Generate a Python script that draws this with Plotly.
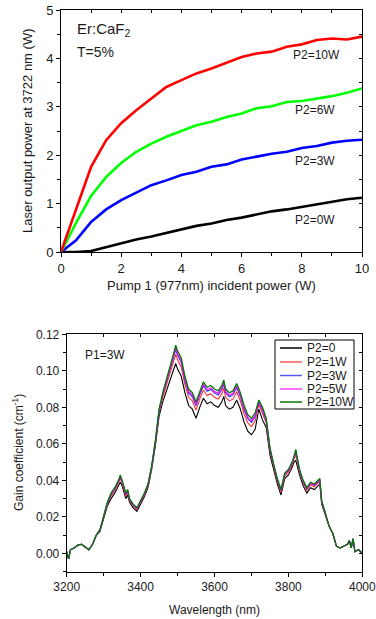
import plotly.graph_objects as go

# ---- upper panel: laser output vs pump 1 power ----
pump1 = [0, 0.5, 1, 1.5, 2, 2.5, 3, 3.5, 4, 4.5, 5, 5.5, 6, 6.5, 7, 7.5, 8, 8.5, 9, 9.5, 10]
out_p2_0w = [0, 0.0, 0.02, 0.10, 0.19, 0.26, 0.32, 0.39, 0.46, 0.54, 0.59, 0.66, 0.71, 0.77,
             0.84, 0.88, 0.93, 0.99, 1.04, 1.09, 1.12]
out_p2_3w = [0, 0.24, 0.62, 0.88, 1.07, 1.22, 1.38, 1.48, 1.59, 1.66, 1.76, 1.81, 1.91, 1.97,
             2.03, 2.07, 2.15, 2.19, 2.26, 2.30, 2.32]
out_p2_6w = [0, 0.60, 1.16, 1.55, 1.84, 2.07, 2.24, 2.38, 2.50, 2.62, 2.69, 2.79, 2.86, 2.97,
             3.01, 3.10, 3.12, 3.17, 3.22, 3.29, 3.38]
out_p2_10w = [0, 0.90, 1.76, 2.31, 2.66, 2.93, 3.17, 3.41, 3.55, 3.69, 3.79, 3.91, 4.03, 4.10,
              4.14, 4.24, 4.29, 4.38, 4.41, 4.39, 4.45]

# ---- lower panel: gain spectra at P1 = 3 W ----
wavelength = [3200, 3205, 3210, 3220, 3230, 3240, 3250, 3260, 3270, 3280, 3290, 3300, 3310,
              3320, 3330, 3340, 3345, 3350, 3360, 3365, 3370, 3380, 3390, 3400, 3410, 3420,
              3430, 3440, 3450, 3460, 3470, 3480, 3490, 3495, 3500, 3510, 3520, 3530, 3540,
              3550, 3560, 3570, 3580, 3590, 3600, 3610, 3620, 3625, 3630, 3640, 3650, 3660,
              3670, 3680, 3690, 3700, 3710, 3720, 3725, 3730, 3740, 3750, 3760, 3770, 3780,
              3790, 3800, 3810, 3815, 3820, 3830, 3840, 3850, 3860, 3870, 3880, 3885, 3890,
              3900, 3910, 3920, 3930, 3940, 3950, 3960, 3965, 3970, 3975, 3980, 3990, 4000]

gain_p2_10w = [0.001, -0.003, 0.002, 0.003, 0.0045, 0.005, 0.0035, 0.002, 0.005, 0.010, 0.013,
               0.020, 0.028, 0.033, 0.036, 0.040, 0.043, 0.040, 0.033, 0.035, 0.030, 0.027,
               0.025, 0.029, 0.033, 0.038, 0.048, 0.062, 0.079, 0.088, 0.095, 0.103, 0.110,
               0.114, 0.111, 0.107, 0.097, 0.090, 0.088, 0.083, 0.089, 0.094, 0.091, 0.092,
               0.090, 0.089, 0.092, 0.095, 0.090, 0.088, 0.089, 0.093, 0.088, 0.081, 0.076,
               0.074, 0.077, 0.084, 0.082, 0.080, 0.074, 0.058, 0.049, 0.041, 0.035, 0.044,
               0.046, 0.050, 0.053, 0.057, 0.046, 0.040, 0.036, 0.039, 0.038, 0.040, 0.041,
               0.029, 0.022, 0.015, 0.011, 0.004, 0.003, 0.004, 0.005, 0.007, 0.003, 0.008,
               0.001, 0.002, 0.000]

gain_p2_5w = [0.001, -0.003, 0.002, 0.003, 0.0045, 0.005, 0.0035, 0.002, 0.005, 0.010, 0.0129,
              0.0199, 0.0277, 0.0326, 0.0356, 0.0396, 0.0424, 0.0396, 0.0326, 0.0346, 0.0297,
              0.0267, 0.0247, 0.0287, 0.0327, 0.0377, 0.0477, 0.0616, 0.0784, 0.0873, 0.0941,
              0.1018, 0.1087, 0.1125, 0.1095, 0.1055, 0.0957, 0.0887, 0.0867, 0.0817, 0.0877,
              0.0927, 0.0897, 0.0907, 0.0887, 0.0877, 0.0907, 0.0937, 0.0887, 0.0867, 0.0877,
              0.0917, 0.0867, 0.0797, 0.0747, 0.0727, 0.0757, 0.0833, 0.0811, 0.0790, 0.0733,
              0.0574, 0.0486, 0.0406, 0.0346, 0.0436, 0.0456, 0.0496, 0.0526, 0.0561, 0.0456,
              0.0396, 0.0356, 0.0386, 0.0376, 0.0396, 0.0406, 0.0287, 0.0219, 0.015, 0.011,
              0.004, 0.003, 0.004, 0.005, 0.007, 0.003, 0.008, 0.001, 0.002, 0.000]

gain_p2_3w = [0.001, -0.003, 0.002, 0.003, 0.0045, 0.005, 0.0035, 0.002, 0.005, 0.010, 0.0128,
              0.0198, 0.0275, 0.0323, 0.0353, 0.0393, 0.0420, 0.0393, 0.0323, 0.0343, 0.0295,
              0.0265, 0.0245, 0.0285, 0.0325, 0.0375, 0.0475, 0.0613, 0.0780, 0.0868, 0.0935,
              0.1010, 0.1078, 0.1115, 0.1085, 0.1045, 0.0948, 0.0878, 0.0858, 0.0808, 0.0868,
              0.0918, 0.0888, 0.0898, 0.0878, 0.0868, 0.0898, 0.0928, 0.0878, 0.0858, 0.0868,
              0.0908, 0.0858, 0.0788, 0.0738, 0.0718, 0.0748, 0.0828, 0.0805, 0.0783, 0.0728,
              0.0570, 0.0483, 0.0403, 0.0343, 0.0433, 0.0453, 0.0493, 0.0523, 0.0555, 0.0453,
              0.0393, 0.0353, 0.0383, 0.0373, 0.0393, 0.0403, 0.0285, 0.0218, 0.015, 0.011,
              0.004, 0.003, 0.004, 0.005, 0.007, 0.003, 0.008, 0.001, 0.002, 0.000]

gain_p2_1w = [0.001, -0.003, 0.002, 0.003, 0.0045, 0.005, 0.0035, 0.002, 0.005, 0.010, 0.0125,
              0.0195, 0.0270, 0.0315, 0.0345, 0.0385, 0.0410, 0.0385, 0.0315, 0.0335, 0.0290,
              0.0260, 0.0240, 0.0280, 0.0320, 0.0370, 0.0470, 0.0605, 0.0770, 0.0855, 0.0920,
              0.0990, 0.1055, 0.1090, 0.1060, 0.1020, 0.0925, 0.0855, 0.0835, 0.0785, 0.0845,
              0.0895, 0.0865, 0.0875, 0.0855, 0.0845, 0.0875, 0.0905, 0.0855, 0.0835, 0.0845,
              0.0885, 0.0835, 0.0765, 0.0715, 0.0695, 0.0725, 0.0815, 0.0790, 0.0765, 0.0715,
              0.0560, 0.0475, 0.0395, 0.0335, 0.0425, 0.0445, 0.0485, 0.0515, 0.0540, 0.0445,
              0.0385, 0.0345, 0.0375, 0.0365, 0.0385, 0.0395, 0.0280, 0.0215, 0.015, 0.011,
              0.004, 0.003, 0.004, 0.005, 0.007, 0.003, 0.008, 0.001, 0.002, 0.000]

gain_p2_0 = [0.001, -0.003, 0.002, 0.003, 0.0045, 0.005, 0.0035, 0.002, 0.005, 0.010, 0.012,
             0.019, 0.026, 0.030, 0.033, 0.037, 0.039, 0.037, 0.030, 0.032, 0.028, 0.025,
             0.023, 0.027, 0.031, 0.036, 0.046, 0.059, 0.075, 0.083, 0.089, 0.095, 0.101,
             0.104, 0.101, 0.097, 0.088, 0.081, 0.079, 0.074, 0.080, 0.085, 0.082, 0.083,
             0.081, 0.080, 0.083, 0.086, 0.081, 0.079, 0.080, 0.084, 0.079, 0.072, 0.067,
             0.065, 0.068, 0.079, 0.076, 0.073, 0.069, 0.054, 0.046, 0.038, 0.032, 0.041,
             0.043, 0.047, 0.050, 0.051, 0.043, 0.037, 0.033, 0.036, 0.035, 0.037, 0.038,
             0.027, 0.021, 0.015, 0.011, 0.004, 0.003, 0.004, 0.005, 0.007, 0.003, 0.008,
             0.001, 0.002, 0.000]

spectra_names = ["P2=0", "P2=1W", "P2=3W", "P2=5W", "P2=10W"]

FONT = "Liberation Sans, Arial, sans-serif"
W, H = 376, 619


def px_x(v):
    return v / W


def px_y(v):
    return 1 - v / H


fig = go.Figure()

# upper panel curves
for ys, col in [(out_p2_0w, "#000000"), (out_p2_3w, "#0000ff"),
                (out_p2_6w, "#00ff00"), (out_p2_10w, "#ff0000")]:
    fig.add_trace(go.Scatter(x=pump1, y=ys, mode="lines", line=dict(color=col, width=2.6),
                             showlegend=False, hoverinfo="skip", xaxis="x", yaxis="y"))

# lower panel spectra
spec_styles = [("#000000", 1.1), ("#ff3030", 1.1), ("#3030ff", 1.1),
               ("#ff00ff", 1.1), ("#007a00", 1.3)]
for ys, name, (col, w) in zip([gain_p2_0, gain_p2_1w, gain_p2_3w, gain_p2_5w, gain_p2_10w],
                              spectra_names, spec_styles):
    fig.add_trace(go.Scatter(x=wavelength, y=ys, mode="lines", name=name, showlegend=False,
                             line=dict(color=col, width=w), xaxis="x2", yaxis="y2"))

# empty traces so the mirrored frame axes get drawn
fig.add_trace(go.Scatter(x=[None], y=[None], xaxis="x3", yaxis="y3", showlegend=False,
                         hoverinfo="skip"))
fig.add_trace(go.Scatter(x=[None], y=[None], xaxis="x4", yaxis="y4", showlegend=False,
                         hoverinfo="skip"))

axis_common = dict(showline=True, linecolor="black", linewidth=1, showgrid=False,
                   zeroline=False, ticks="outside", ticklen=4, tickcolor="black",
                   tickwidth=1, automargin=False)
mirror_common = dict(showticklabels=False, showline=True, linecolor="black", linewidth=1,
                     ticks="inside", ticklen=3, tickcolor="black", showgrid=False,
                     zeroline=False, automargin=False)

top_dom_x = [px_x(61), px_x(362)]
top_dom_y = [px_y(252), px_y(10)]
bot_dom_x = [px_x(66.7), px_x(362.3)]
bot_dom_y = [px_y(571.7), px_y(334.3)]

fig.update_layout(
    width=W, height=H,
    margin=dict(l=0, r=0, t=0, b=0),
    paper_bgcolor="white", plot_bgcolor="white",
    font=dict(family=FONT, color="#1a1a1a", size=12),
    showlegend=False,
    xaxis=dict(domain=top_dom_x, anchor="y", range=[0, 10], dtick=2, tick0=0,
               minor=dict(ticks="outside", dtick=1, ticklen=3, tickcolor="black"),
               tickfont=dict(size=13), **axis_common),
    yaxis=dict(domain=top_dom_y, anchor="x", range=[0, 5], dtick=1, tick0=0,
               minor=dict(ticks="outside", dtick=0.5, ticklen=3, tickcolor="black"),
               tickfont=dict(size=13), **axis_common),
    xaxis3=dict(domain=top_dom_x, anchor="y3", overlaying="x", side="top", range=[0, 10],
                dtick=1, tick0=0, **mirror_common),
    yaxis3=dict(domain=top_dom_y, anchor="x3", overlaying="y", side="right", range=[0, 5],
                dtick=0.5, tick0=0, **mirror_common),
    xaxis2=dict(domain=bot_dom_x, anchor="y2", range=[3200, 4000], dtick=200, tick0=3200,
                minor=dict(ticks="outside", dtick=100, ticklen=3, tickcolor="black"),
                tickfont=dict(size=12), **axis_common),
    yaxis2=dict(domain=bot_dom_y, anchor="x2", range=[-0.01, 0.12], dtick=0.02, tick0=0,
                tickformat=".2f",
                minor=dict(ticks="outside", dtick=0.01, ticklen=3, tickcolor="black"),
                tickfont=dict(size=12), **axis_common),
    xaxis4=dict(domain=bot_dom_x, anchor="y4", overlaying="x2", side="top",
                range=[3200, 4000], dtick=100, tick0=3200, **mirror_common),
    yaxis4=dict(domain=bot_dom_y, anchor="x4", overlaying="y2", side="right",
                range=[-0.01, 0.12], dtick=0.01, tick0=0, **mirror_common),
)

CM = dict(xanchor="center", yanchor="middle", showarrow=False)
LM = dict(xanchor="left", yanchor="middle", showarrow=False)

annos = [
    # axis titles
    dict(text="Pump 1 (977nm) incident power (W)", x=px_x(211.5), y=px_y(285),
         xref="paper", yref="paper", font=dict(size=13), **CM),
    dict(text="Laser output power at 3722 nm (W)", x=px_x(27), y=px_y(131),
         xref="paper", yref="paper", textangle=-90, font=dict(size=13), **CM),
    dict(text="Wavelength (nm)", x=px_x(214.5), y=px_y(610),
         xref="paper", yref="paper", font=dict(size=12), **CM),
    dict(text="Gain coefficient (cm<sup>-1</sup>)", x=px_x(18), y=px_y(453),
         xref="paper", yref="paper", textangle=-90, font=dict(size=12), **CM),
    # in-plot labels
    dict(text="Er:CaF<sub>2</sub>", x=0.45, y=4.6, xref="x", yref="y",
         font=dict(size=15), **LM),
    dict(text="T=5%", x=0.45, y=4.13, xref="x", yref="y", font=dict(size=14), **LM),
    dict(text="P2=10W", x=8.5, y=4.07, xref="x", yref="y", font=dict(size=12), **CM),
    dict(text="P2=6W", x=8.45, y=2.93, xref="x", yref="y", font=dict(size=12), **CM),
    dict(text="P2=3W", x=8.45, y=1.88, xref="x", yref="y", font=dict(size=12), **CM),
    dict(text="P2=0W", x=8.45, y=0.66, xref="x", yref="y", font=dict(size=12), **CM),
    dict(text="P1=3W", x=3244, y=0.1087, xref="x2", yref="y2", font=dict(size=12), **LM),
]

# legend box for the spectra
shapes = [dict(type="rect", xref="paper", yref="paper", x0=px_x(275), x1=px_x(354),
               y0=px_y(409), y1=px_y(340), line=dict(color="black", width=1),
               fillcolor="white", layer="above")]
legend_rows = [348, 362, 375.5, 389, 402]
legend_cols = ["#000000", "#ff5a5a", "#5a5aff", "#ff40ff", "#007a00"]
for name, row, col in zip(spectra_names, legend_rows, legend_cols):
    shapes.append(dict(type="line", xref="paper", yref="paper", x0=px_x(280), x1=px_x(302),
                       y0=px_y(row), y1=px_y(row), line=dict(color=col, width=1.5),
                       layer="above"))
    annos.append(dict(text=name, x=px_x(305), y=px_y(row), xref="paper", yref="paper",
                      font=dict(size=12), **LM))

fig.update_layout(annotations=annos, shapes=shapes)

fig.write_html("out.html")
